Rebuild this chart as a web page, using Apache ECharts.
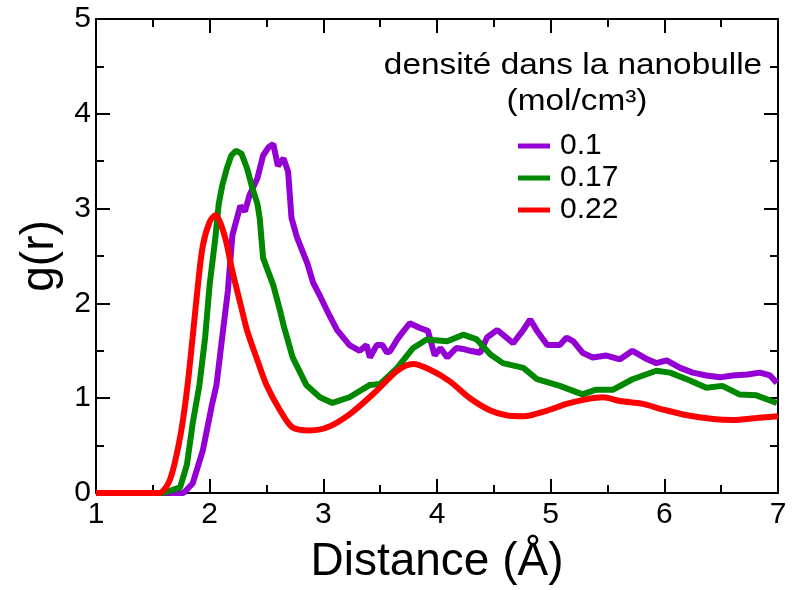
<!DOCTYPE html>
<html>
<head>
<meta charset="utf-8">
<script src="https://cdn.jsdelivr.net/npm/echarts@6/dist/echarts.min.js"></script>
<style>html,body{margin:0;padding:0;background:#fff}#c{width:796px;height:590px}</style>
</head>
<body>
<div id="c"></div>
<script>
// ---- data ----
const seriesNames = ['0.1', '0.17', '0.22'];
const seriesColors = ['#9400D3', '#008800', '#FF0000'];
const legendTitle1 = 'densité dans la nanobulle';
const legendTitle2 = '(mol/cm³)';
const xTitle = 'Distance (Å)';
const yTitle = 'g(r)';

const xPurple = [1.0,1.77,1.85,1.94,2.02,2.06,2.11,2.16,2.20,2.27,2.31,2.35,2.42,2.47,2.52,2.56,2.60,2.65,2.69,2.72,2.77,2.86,2.91,2.97,3.03,3.12,3.23,3.32,3.38,3.41,3.47,3.52,3.56,3.59,3.65,3.70,3.76,3.85,3.92,3.98,4.03,4.09,4.17,4.23,4.29,4.38,4.44,4.53,4.61,4.67,4.76,4.82,4.88,4.97,5.08,5.14,5.20,5.28,5.37,5.49,5.61,5.72,5.85,5.93,6.02,6.14,6.25,6.37,6.49,6.60,6.73,6.84,6.93,6.99];
const yPurple = [0,0,0.10,0.45,0.93,1.14,1.64,2.13,2.72,3.03,2.97,3.14,3.32,3.56,3.65,3.68,3.45,3.53,3.39,2.90,2.69,2.42,2.22,2.08,1.93,1.72,1.56,1.50,1.56,1.43,1.56,1.56,1.48,1.50,1.62,1.70,1.79,1.74,1.71,1.45,1.53,1.43,1.53,1.52,1.50,1.48,1.64,1.72,1.64,1.58,1.72,1.83,1.71,1.56,1.56,1.64,1.60,1.48,1.43,1.45,1.41,1.50,1.41,1.37,1.40,1.32,1.27,1.24,1.22,1.24,1.25,1.27,1.24,1.16];

const xGreen = [1.0,1.59,1.74,1.80,1.85,1.91,1.96,2.00,2.05,2.08,2.11,2.15,2.19,2.23,2.28,2.33,2.37,2.42,2.44,2.47,2.56,2.62,2.65,2.73,2.85,2.97,3.08,3.23,3.41,3.50,3.65,3.79,3.91,4.09,4.23,4.35,4.47,4.58,4.76,4.88,5.08,5.28,5.40,5.55,5.72,5.93,6.05,6.22,6.37,6.51,6.66,6.81,6.99];
const yGreen = [0,0,0.06,0.30,0.73,1.14,1.64,2.20,2.69,3.05,3.24,3.42,3.56,3.61,3.58,3.42,3.24,3.05,2.90,2.48,2.19,1.92,1.77,1.43,1.14,1.01,0.95,1.01,1.14,1.15,1.32,1.53,1.62,1.60,1.67,1.62,1.46,1.37,1.32,1.20,1.13,1.04,1.09,1.09,1.20,1.29,1.27,1.19,1.11,1.13,1.04,1.03,0.95];

const xRed = [1.0,1.55,1.65,1.74,1.80,1.85,1.90,1.94,2.00,2.05,2.13,2.20,2.28,2.33,2.42,2.50,2.62,2.73,2.88,3.03,3.23,3.47,3.65,3.79,3.94,4.11,4.29,4.47,4.61,4.76,4.97,5.14,5.32,5.46,5.61,5.81,5.99,6.20,6.43,6.60,6.81,7.00];
const yRed = [0,0,0.14,0.59,1.08,1.64,2.23,2.61,2.86,2.93,2.72,2.34,1.95,1.71,1.40,1.14,0.87,0.69,0.66,0.69,0.83,1.08,1.29,1.36,1.30,1.18,1.00,0.87,0.82,0.81,0.87,0.94,0.99,1.01,0.97,0.94,0.88,0.82,0.78,0.77,0.79,0.81];

const xMin = 1, xMax = 7, xStep = 1;
const yMin = 0, yMax = 5, yStep = 1;

// ---- chart ----
const zip = (xs, ys) => xs.map((x, i) => [x, ys[i]]);
const FONT = 'Liberation Sans, Arial, Helvetica, sans-serif';
const chart = echarts.init(document.getElementById('c'), null, {renderer: 'canvas'});

function axisCommon(min, max, step, showLabel, pos) {
  return {
    type: 'value', min, max, interval: step, position: pos,
    axisLine: {show: true, onZero: false, lineStyle: {color: '#000', width: 2}},
    axisTick: {show: true, inside: true, length: 14, lineStyle: {color: '#000', width: 2}},
    minorTick: {show: true, splitNumber: 2, length: 8, lineStyle: {color: '#000', width: 2}},
    splitLine: {show: false},
    axisLabel: {show: showLabel, color: '#000', fontSize: 30, fontFamily: FONT},
  };
}

const xBottom = Object.assign(axisCommon(xMin, xMax, xStep, true, 'bottom'), {
  name: xTitle, nameLocation: 'middle', nameGap: 46,
  nameTextStyle: {fontSize: 46, fontFamily: FONT, color: '#000'}
});
xBottom.axisLabel.margin = 7;
const xTop = axisCommon(xMin, xMax, xStep, false, 'top');
const yLeft = Object.assign(axisCommon(yMin, yMax, yStep, true, 'left'), {
  name: yTitle, nameLocation: 'middle', nameGap: 30,
  nameTextStyle: {fontSize: 46, fontFamily: FONT, color: '#000'}
});
yLeft.axisLabel.margin = 5;
const yRight = axisCommon(yMin, yMax, yStep, false, 'right');

const xsAll = [xPurple, xGreen, xRed];
const ysAll = [yPurple, yGreen, yRed];

chart.setOption({
  animation: false,
  backgroundColor: '#fff',
  grid: {left: 96, right: 18, top: 19, bottom: 94, containLabel: false},
  xAxis: [xBottom, xTop],
  yAxis: [yLeft, yRight],
  legend: {
    orient: 'vertical', left: 513, top: 126, itemGap: 2,
    itemWidth: 32, itemHeight: 5, icon: 'rect',
    data: seriesNames,
    textStyle: {fontSize: 30, fontFamily: FONT, color: '#000', padding: [0, 0, 0, 5]}
  },
  graphic: [
    {type: 'text', x: 573, y: 66, scaleX: 1.15,
     style: {text: legendTitle1, fontSize: 29, fontFamily: FONT, fill: '#000', textAlign: 'center', textVerticalAlign: 'middle'}},
    {type: 'text', x: 577, y: 102, scaleX: 1.15,
     style: {text: legendTitle2, fontSize: 29, fontFamily: FONT, fill: '#000', textAlign: 'center', textVerticalAlign: 'middle'}}
  ],
  series: seriesNames.map((n, i) => ({
    name: n, type: 'line', xAxisIndex: 0, yAxisIndex: 0,
    data: zip(xsAll[i], ysAll[i]),
    showSymbol: false, symbol: 'none', clip: false,
    smooth: i === 2 ? 0.3 : false,
    itemStyle: {color: seriesColors[i]},
    lineStyle: {color: seriesColors[i], width: 6}
  }))
});
</script>
</body>
</html>
